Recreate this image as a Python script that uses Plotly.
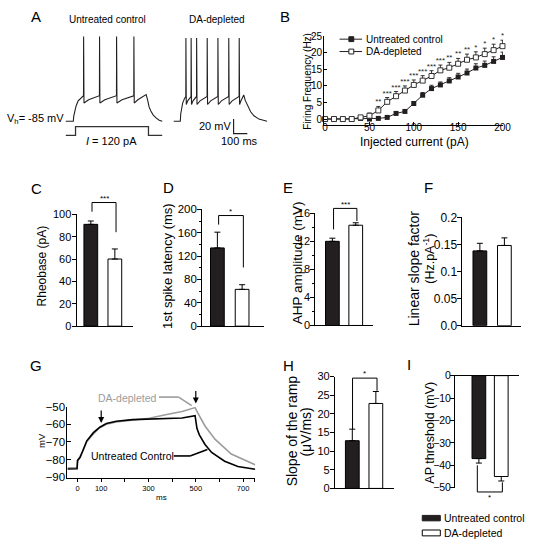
import plotly.graph_objects as go

W, H = 533, 549
FONT = "Liberation Sans, Arial, sans-serif"
INK = "#231f20"
GREY = "#9c9c9c"

# ======================= DATA =======================
# --- A: example voltage traces (ms, mV) and current step (pA)
A_BASELINE_MV = -85
ctrl_onset_ms = 55
ctrl_rise_ms = [58, 64, 75, 90, 110, 124]
ctrl_rise_mv = [-78, -72, -64, -57, -53, -51.5]
ctrl_spike_ms = [129, 245, 369, 495]
ctrl_spike_peak_mv = 31
ctrl_spike_pre_mv = -50
ctrl_trough_mv = -60
ctrl_decay_ms = [585, 596, 606, 619, 637, 655, 680, 702]
ctrl_decay_mv = [-48.5, -56, -65, -71, -76.5, -80, -83.5, -85]
ctrl_current_ms = [0, 71, 71, 602, 602, 702]
ctrl_current_pa = [0, 0, 120, 120, 0, 0]

da_onset_ms = 48
da_rise_ms = [51, 56, 65, 78]
da_rise_mv = [-75, -67, -60, -54]
da_spike_ms = [88, 126, 166, 243, 321, 400, 476]
da_spike_peak_mv = 29
da_spike_pre_mv = -51
da_trough_mv = -62
da_decay_ms = [510, 520, 536, 560, 584, 620, 679]
da_decay_mv = [-49, -56, -62, -72, -77.5, -82, -85]

scale_mv = 20
scale_ms = 100

# --- B: firing frequency vs injected current
current_pa = [0, 10, 20, 30, 40, 50, 60, 70, 80, 90, 100, 110, 120, 130, 140, 150, 160, 170, 180, 190, 200]
ctrl_hz = [0, 0, 0, 0, 0.2, 0, 0.2, 0.5, 1.7, 2.3, 4.7, 7.2, 9.2, 10.3, 11.5, 12.7, 13.9, 15.4, 16.2, 17.4, 18.6]
ctrl_hz_err = [0, 0, 0, 0, 0.2, 0.1, 0.2, 0.3, 0.4, 0.5, 0.6, 0.8, 1.0, 0.9, 1.0, 1.1, 1.2, 1.3, 1.3, 1.4, 1.6]
da_hz = [0, 0, 0, 0, 0.5, 1.0, 2.6, 5.2, 6.9, 8.6, 10.3, 11.6, 13.0, 14.7, 15.5, 16.7, 17.9, 18.6, 19.6, 20.8, 22.0]
da_hz_err = [0, 0, 0, 0, 0.3, 0.8, 1.2, 1.3, 1.4, 1.4, 1.5, 1.5, 1.6, 1.6, 1.6, 1.6, 1.7, 1.7, 1.8, 1.8, 1.8]
b_stars = ["", "", "", "", "", "", "**", "***", "***", "***", "***", "***", "***", "***",
           "**", "**", "**", "*", "*", "*", "*"]

groups = ["Untreated control", "DA-depleted"]
# --- C..F, H, I bar panels (control, DA-depleted)
rheobase_pa = [91, 60];          rheobase_err = [3, 9]
latency_ms = [134, 63];          latency_err = [27, 8]
ahp_mv = [12.0, 14.3];           ahp_err = [0.45, 0.35]
slope_factor = [0.138, 0.148];   slope_factor_err = [0.014, 0.014]
ramp_slope = [12.8, 22.8];       ramp_slope_err = [3.1, 3.2]
ap_threshold = [-37, -45];       ap_threshold_err = [2, 2]

# --- G: averaged ramp responses (ms, mV)
g_ctrl_ms = [-43, -2, 0, 11, 25, 39, 67, 94, 122, 164, 233, 303, 372, 442, 497, 500, 505, 515, 539, 567, 622, 678, 751]
g_ctrl_mv = [-85.4, -85.2, -80.5, -78.7, -74, -69.4, -64.8, -61.7, -59.6, -58.3, -57.4, -57, -57, -56.5, -55.2,
             -58.5, -62.5, -66, -71.5, -76, -81, -84, -85.5]
g_da_ms = [-43, -2, 0, 11, 25, 39, 67, 94, 122, 164, 233, 303, 372, 442, 497, 500, 507, 539, 581, 650, 706, 751]
g_da_mv = [-84.8, -84.6, -81, -78.5, -74.5, -70, -65.5, -62, -60, -58.7, -57.6, -56.6, -54.6, -52.8, -50.6,
           -51.5, -53.3, -61, -68.5, -76.9, -80.5, -83]
g_arrow_ms = [100, 500]

# ======================= LAYOUT HELPERS =======================
layout = dict(width=W, height=H, autosize=False, margin=dict(l=0, r=0, t=0, b=0),
              paper_bgcolor="white", plot_bgcolor="rgba(0,0,0,0)", showlegend=False,
              font=dict(family=FONT, size=11, color="black"))
shapes, annots, traces = [], [], []


def fx(x):
    return x / W


def fy(y):
    return 1 - y / H


class Panel:
    def __init__(self, n, xpx, ypx, xr, yr):
        self.n, self.xpx, self.ypx, self.xr, self.yr = n, xpx, ypx, xr, yr
        self.xa = "x" if n == 1 else f"x{n}"
        self.ya = "y" if n == 1 else f"y{n}"

    def X(self, x):
        return self.xpx[0] + (x - self.xr[0]) / (self.xr[1] - self.xr[0]) * (self.xpx[1] - self.xpx[0])

    def Y(self, y):
        return self.ypx[1] - (y - self.yr[0]) / (self.yr[1] - self.yr[0]) * (self.ypx[1] - self.ypx[0])

    def axes(self, xkw, ykw):
        kx = "xaxis" if self.n == 1 else f"xaxis{self.n}"
        ky = "yaxis" if self.n == 1 else f"yaxis{self.n}"
        layout[kx] = dict(domain=[fx(self.xpx[0]), fx(self.xpx[1])], range=list(self.xr), anchor=self.ya, **xkw)
        layout[ky] = dict(domain=[fy(self.ypx[1]), fy(self.ypx[0])], range=list(self.yr), anchor=self.xa, **ykw)


def axstyle(size=10, **kw):
    d = dict(showline=True, linecolor="black", linewidth=1, ticks="outside", ticklen=4, tickwidth=1,
             tickcolor="black", showgrid=False, zeroline=False, fixedrange=True,
             tickfont=dict(family=FONT, size=size, color="black"))
    d.update(kw)
    return d


HIDDEN = dict(visible=False, fixedrange=True)


def seg(x0, y0, x1, y1, color="black", width=1):
    shapes.append(dict(type="line", xref="paper", yref="paper", x0=fx(x0), y0=fy(y0), x1=fx(x1), y1=fy(y1),
                       line=dict(color=color, width=width)))


def rect(x0, y0, x1, y1, fill, line="black"):
    shapes.append(dict(type="rect", xref="paper", yref="paper", x0=fx(x0), y0=fy(y0), x1=fx(x1), y1=fy(y1),
                       fillcolor=fill, line=dict(color=line, width=1)))


def text(t, x, y, size=11, xanchor="center", yanchor="middle", angle=0, color="black"):
    annots.append(dict(text=t, x=fx(x), y=fy(y), xref="paper", yref="paper", showarrow=False,
                       xanchor=xanchor, yanchor=yanchor, textangle=angle,
                       font=dict(family=FONT, size=size, color=color), borderpad=0))


# ======================= PANEL A =======================
PX_MS, PX_MV = 0.14, 0.75
A_T0_PX, A_BASE_PX = 65, 117.3
A_X = (60, 275)
pA = Panel(1, A_X, (25, 140),
           ((A_X[0] - A_T0_PX) / PX_MS, (A_X[1] - A_T0_PX) / PX_MS),
           (A_BASELINE_MV - (140 - A_BASE_PX) / PX_MV, A_BASELINE_MV + (A_BASE_PX - 25) / PX_MV))
pA.axes(HIDDEN, HIDDEN)
PX_PA, CUR_BASE_PX = 0.075, 131.7
pI = Panel(2, A_X, (118, 136), pA.xr, (-(136 - CUR_BASE_PX) / PX_PA, (CUR_BASE_PX - 118) / PX_PA))
pI.axes(HIDDEN, HIDDEN)


def build_trace(onset, rise_t, rise_v, spikes, pre, peak, trough, dec_t, dec_v, offset=0):
    t = [0, onset] + list(rise_t)
    v = [A_BASELINE_MV, A_BASELINE_MV] + list(rise_v)
    for i, s in enumerate(spikes):
        t += [s, s + 0.8, s + 3.5]
        v += [pre, peak, trough]
        nxt = spikes[i + 1] if i + 1 < len(spikes) else dec_t[0]
        t += [s + 3.5 + (nxt - s - 3.5) * 0.3, s + 3.5 + (nxt - s - 3.5) * 0.7]
        v += [trough + (pre - trough) * 0.45, trough + (pre - trough) * 0.8]
    t += list(dec_t)
    v += list(dec_v)
    return [x + offset for x in t], v


ct, cv = build_trace(ctrl_onset_ms, ctrl_rise_ms, ctrl_rise_mv, ctrl_spike_ms, ctrl_spike_pre_mv,
                     ctrl_spike_peak_mv, ctrl_trough_mv, ctrl_decay_ms, ctrl_decay_mv)
DA_OFFSET_MS = (175 - A_T0_PX) / PX_MS
dt, dv = build_trace(da_onset_ms, da_rise_ms, da_rise_mv, da_spike_ms, da_spike_pre_mv,
                     da_spike_peak_mv, da_trough_mv, da_decay_ms, da_decay_mv, DA_OFFSET_MS)
for tt, vv in ((ct, cv), (dt, dv)):
    traces.append(go.Scatter(x=tt, y=vv, mode="lines", line=dict(color=INK, width=1.1),
                             xaxis=pA.xa, yaxis=pA.ya, hoverinfo="skip"))
traces.append(go.Scatter(x=ctrl_current_ms, y=ctrl_current_pa, mode="lines", line=dict(color="#333", width=1.3),
                         xaxis=pI.xa, yaxis=pI.ya, hoverinfo="skip"))
# scale bar
SB_T = (236 - A_T0_PX) / PX_MS
SB_V = A_BASELINE_MV - (130 - A_BASE_PX) / PX_MV
traces.append(go.Scatter(x=[SB_T, SB_T, SB_T + scale_ms], y=[SB_V + scale_mv, SB_V, SB_V], mode="lines",
                         line=dict(color=INK, width=1.2), xaxis=pA.xa, yaxis=pA.ya, hoverinfo="skip"))
text("A", 35, 10, 15)
text("Untreated control", 108, 13, 10)
text("DA-depleted", 219, 13, 10)
text("V<sub>h</sub>= -85 mV", 64, 115, 11, xanchor="right")
text("<i>I</i> = 120 pA", 112, 137, 11)
text("20 mV", 234, 122, 11, xanchor="right")
text("100 ms", 242, 137, 11)

# ======================= PANEL B =======================
pB = Panel(3, (328.3, 510.5), (30, 120.7), (-1.1, 200.5), (-1.68, 25))
pB.axes(axstyle(10, tickvals=[0, 50, 100, 150, 200], ticks="inside", ticklen=3, ticklabelstandoff=-7),
        axstyle(10, tickvals=[0, 5, 10, 15, 20, 25], ticks="inside", ticklen=3, ticklabelstandoff=-1))
traces.append(go.Scatter(x=current_pa, y=ctrl_hz, mode="lines+markers", xaxis=pB.xa, yaxis=pB.ya,
                         line=dict(color=INK, width=1), marker=dict(symbol="square", size=5, color=INK),
                         error_y=dict(type="data", symmetric=False, array=ctrl_hz_err,
                                      arrayminus=[0] * len(ctrl_hz_err), color=INK, thickness=0.9, width=2),
                         cliponaxis=False, hoverinfo="skip"))
traces.append(go.Scatter(x=current_pa, y=da_hz, mode="lines+markers", xaxis=pB.xa, yaxis=pB.ya,
                         line=dict(color=INK, width=1),
                         marker=dict(symbol="square", size=5, color="white", line=dict(color=INK, width=0.9)),
                         error_y=dict(type="data", symmetric=False, array=da_hz_err,
                                      arrayminus=[0] * len(da_hz_err), color=INK, thickness=0.9, width=2),
                         cliponaxis=False, hoverinfo="skip"))
traces.append(go.Scatter(x=current_pa, y=[a + b for a, b in zip(da_hz, da_hz_err)], mode="text",
                         text=b_stars, textposition="top center", textfont=dict(size=8, color=INK),
                         xaxis=pB.xa, yaxis=pB.ya, cliponaxis=False, hoverinfo="skip"))
text("B", 288, 10, 15)
text("Firing Frequency (Hz)", 310.5, 76, 10, angle=-90)
text("Injected current (pA)", 420.5, 138.5, 12)
for yy, filled, lab in ((33, True, groups[0]), (45.7, False, groups[1])):
    seg(344, yy, 367, yy, INK, 1)
    rect(353.5, yy - 2.5, 358.5, yy + 2.5, INK if filled else "white", INK)
    text(lab, 370, yy, 10, xanchor="left")

# ======================= BAR PANELS =======================


def bar_panel(n, x0, c1, c2, xend, ypx, yr, vals, errs, ytick_kw, tsize, bar_px=14, down=False):
    ppu = c2 - c1
    xr = (1 - (c1 - x0) / ppu, 2 + (xend - c2) / ppu)
    p = Panel(n, (x0, xend), ypx, xr, yr)
    xkw = axstyle(10, ticks="inside", tickvals=[xr[1] - 1e-3], showticklabels=False, ticklen=4)
    if down:
        xkw["side"] = "top"
    ykw = dict(ticklabelstandoff=-2)
    ykw.update(ytick_kw)
    p.axes(xkw, axstyle(tsize, **ykw))
    zero = [0, 0]
    err = dict(type="data", symmetric=False, array=zero if down else errs,
               arrayminus=errs if down else zero, color="black", thickness=1, width=3)
    traces.append(go.Bar(x=[1, 2], y=vals, width=bar_px / ppu, xaxis=p.xa, yaxis=p.ya,
                         marker=dict(color=[INK, "white"], line=dict(color="black", width=1)),
                         error_y=err, hoverinfo="skip"))
    return p


def bracket(p, top, lb, rb, label, dx=(0.05, 0.05), size=8):
    xl, xr_ = p.X(1 + dx[0]), p.X(2 + dx[1])
    yt = p.Y(top)
    seg(xl, p.Y(lb), xl, yt)
    seg(xl, yt, xr_, yt)
    seg(xr_, yt, xr_, p.Y(rb))
    text(label, (xl + xr_) / 2, yt - 4.5, size)


# C
pC = bar_panel(4, 76, 90.5, 115, 134, (212.7, 327.5), (0, 100), rheobase_pa, rheobase_err,
               dict(tickvals=[0, 20, 40, 60, 80, 100]), 11)
bracket(pC, 110.5, 102.3, 84, "***")
text("C", 35, 186, 15)
text("Rheobase (pA)", 41, 266, 12, angle=-90)

# D
pD = bar_panel(5, 204, 219.5, 244.7, 267, (207.7, 327.5), (0, 200), latency_ms, latency_err,
               dict(tickvals=[0, 40, 80, 120, 160, 200], minor=dict(dtick=20, ticks="outside", ticklen=2,
                                                                     tickcolor="black")), 11.5)
bracket(pD, 189.5, 174, 100.5, "*")
text("D", 170, 185, 15)
text("1st spike latency (ms)", 168, 266, 13, angle=-90)

# E
pE = bar_panel(6, 319.3, 336.7, 360.5, 378.3, (211.7, 326.8), (0, 16), ahp_mv, ahp_err,
               dict(tickvals=[0, 4, 8, 12, 16], minor=dict(dtick=2, ticks="outside", ticklen=2,
                                                            tickcolor="black")), 11)
bracket(pE, 16.7, 13.7, 14.9, "***")
text("E", 291.7, 185, 15)
text("AHP amplitude (mV)", 300.5, 262, 13.5, angle=-90)

# F
pF = bar_panel(7, 469.3, 487, 512, 529.3, (215.8, 327), (0, 0.2), slope_factor, slope_factor_err,
               dict(tickvals=[0, 0.05, 0.1, 0.15, 0.2], ticktext=["0.0", "0.05", "0.1", "0.15", "0.2"]), 12)
text("F", 435, 185, 15)
text("Linear slope factor", 420, 268, 14, angle=-90)
text("(Hz.pA<sup>-1</sup>)", 435.5, 258, 12.5, angle=-90)

# ======================= PANEL G =======================
G_T0_PX, G_PX_MS = 77, 0.241
pG = Panel(8, (66.7, 258.3), (410, 483.2),
           ((66.7 - G_T0_PX) / G_PX_MS, (258.3 - G_T0_PX) / G_PX_MS), (-90.4, -50))
pG.axes(axstyle(7.5, tickvals=[0, 100, 200, 300, 400, 500, 600, 700, 750],
                ticktext=["0", "100", "", "300", "", "500", "", "700", ""], ticklen=3),
        axstyle(11.5, tickvals=[-90, -80, -70, -60, -50], ticks="inside", ticklen=4, ticklabelstandoff=-1))
traces.append(go.Scatter(x=g_da_ms, y=g_da_mv, mode="lines", line=dict(color=GREY, width=1.6),
                         xaxis=pG.xa, yaxis=pG.ya, hoverinfo="skip"))
traces.append(go.Scatter(x=g_ctrl_ms, y=g_ctrl_mv, mode="lines", line=dict(color="black", width=1.6),
                         xaxis=pG.xa, yaxis=pG.ya, hoverinfo="skip"))
for tms, tip in zip(g_arrow_ms, [-59.3, -48.3]):
    annots.append(dict(x=fx(pG.X(tms)), y=fy(pG.Y(tip)), xref="paper", yref="paper", text="",
                       showarrow=True, arrowhead=2, arrowsize=1, arrowwidth=1.2, arrowcolor="black",
                       ax=0, ay=-14))
text("G", 35, 368, 15)
text("mV", 40, 445, 9.5, angle=-90)
text("ms", 163, 503, 8)
text("DA-depleted", 128, 401, 10.5, color=GREY)
seg(160, 400.3, 180, 400.3, GREY, 1.6)
seg(180, 400.3, 193.3, 409, GREY, 1.6)
text("Untreated Control", 133.3, 460.7, 10.5)
seg(175, 460.7, 191.7, 460.7, "black", 1.6)
seg(191.7, 460.7, 209.3, 454, "black", 1.6)

# ======================= PANEL H =======================
pH = bar_panel(9, 339.3, 357, 381, 399.3, (379.3, 494), (0, 30), ramp_slope, ramp_slope_err,
               dict(tickvals=[0, 5, 10, 15, 20, 25, 30]), 11)
bracket(pH, 29.6, 15.9, 26.2, "*", dx=(0.01, 0.05))
text("H", 291.7, 368, 15)
text("Slope of the ramp", 295, 435, 14, angle=-90)
text("(\u03bcV/ms)", 309.5, 436, 14, angle=-90)

# ======================= PANEL I =======================
pI2 = bar_panel(10, 461.7, 486, 508.8, 527.3, (378.3, 493.3), (-50, 0), ap_threshold, ap_threshold_err,
                dict(tickvals=[-50, -40, -30, -20, -10, 0], ticklabelstandoff=-3), 10.5, down=True)
xl, xr_ = pI2.X(0.93), pI2.X(2.05)
yb = pI2.Y(-51.9)
seg(xl, pI2.Y(-40), xl, yb)
seg(xl, yb, xr_, yb)
seg(xr_, yb, xr_, pI2.Y(-47.6))
text("*", (xl + xr_) / 2, yb + 6, 8)
text("I", 415, 367, 15)
text("AP threshold (mV)", 436, 437, 12.5, angle=-90)

# legend (bottom right)
rect(428.3, 521.7, 446.7, 527.3, INK, INK)
text(groups[0], 449, 524.5, 10.5, xanchor="left")
rect(428.3, 536.7, 446.7, 542.7, "white", "black")
text(groups[1], 449, 540, 10.5, xanchor="left")

layout["shapes"] = shapes
layout["annotations"] = annots
layout["bargap"] = 0
fig = go.Figure(data=traces, layout=layout)
fig.write_html("out.html", config={"displayModeBar": False, "staticPlot": True},
               post_script="document.body.style.margin='0';document.body.style.overflow='hidden';")
